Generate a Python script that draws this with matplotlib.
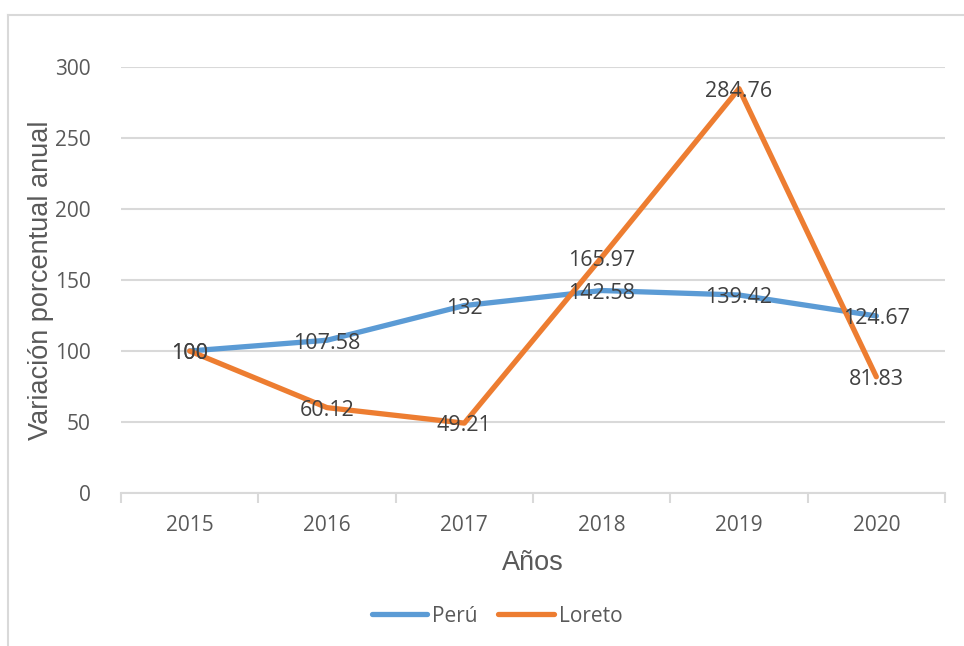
import matplotlib.pyplot as plt
from matplotlib.lines import Line2D

years = ["2015", "2016", "2017", "2018", "2019", "2020"]
peru = [100, 107.58, 132, 142.58, 139.42, 124.67]
loreto = [100, 60.12, 49.21, 165.97, 284.76, 81.83]
peru_labels = ["100", "107.58", "132", "142.58", "139.42", "124.67"]
loreto_labels = ["100", "60.12", "49.21", "165.97", "284.76", "81.83"]

blue = "#5B9BD5"
orange = "#ED7D31"
grid = "#D9D9D9"
txt = "#595959"

fig = plt.figure(figsize=(9.64, 6.46), dpi=100)
fig.patch.set_facecolor("white")
ax = fig.add_axes([121 / 964, 1 - 493 / 646, (945 - 121) / 964, (493 - 67) / 646])

x = list(range(len(years)))
ax.plot(x, peru, color=blue, lw=3.8, solid_capstyle="round", label="Perú", zorder=3)
ax.plot(x, loreto, color=orange, lw=3.8, solid_capstyle="round", label="Loreto", zorder=3)

# etiquetas de datos centradas en el punto
for i in x:
    ax.annotate(peru_labels[i], (i, peru[i]), xytext=(0, -2), textcoords="offset points",
                ha="center", va="center", fontsize=15.5, family="Open Sans",
                color="#404040", zorder=4)
    ax.annotate(loreto_labels[i], (i, loreto[i]), xytext=(0, -2), textcoords="offset points",
                ha="center", va="center", fontsize=15.5, family="Open Sans",
                color="#404040", zorder=4)

ax.set_xlim(-0.5, len(years) - 0.5)
ax.set_ylim(0, 300)
ax.set_yticks(range(0, 301, 50))
ax.yaxis.grid(True, color=grid, lw=1.5)
ax.set_axisbelow(True)

ax.set_xticks(x)
ax.set_xticklabels(years)
ax.set_xticks([i - 0.5 for i in range(len(years) + 1)], minor=True)
ax.tick_params(axis="x", which="major", length=0, pad=16, labelsize=15, labelcolor=txt)
ax.tick_params(axis="x", which="minor", length=7, width=1.5, color=grid, direction="out")
ax.tick_params(axis="y", length=0, pad=22, labelsize=15, labelcolor=txt)
for lab in ax.get_xticklabels() + ax.get_yticklabels():
    lab.set_family("Open Sans")

for s in ["top", "right", "left"]:
    ax.spines[s].set_visible(False)
ax.spines["bottom"].set_color(grid)
ax.spines["bottom"].set_linewidth(1.5)

ax.set_xlabel("Años", fontsize=19.5, color=txt, family="Liberation Sans", labelpad=10)
ax.set_ylabel("Variación porcentual anual", fontsize=19.5, color=txt,
              family="Liberation Sans")
ax.yaxis.set_label_coords(-(121 - 54) / 824, 0.5)

leg = fig.legend(loc="center", bbox_to_anchor=(497 / 964, 1 - 616 / 646), ncol=2,
                 frameon=False, prop={"family": "Open Sans", "size": 15},
                 handlelength=2.65, handletextpad=0.25, columnspacing=1.0)
for t in leg.get_texts():
    t.set_color(txt)

# marco del gráfico
fig.add_artist(Line2D([8 / 964, 963 / 964], [1 - 15 / 646, 1 - 15 / 646], color=grid, lw=1.5))
fig.add_artist(Line2D([8 / 964, 8 / 964], [1 - 15 / 646, 0], color=grid, lw=1.5))

fig.savefig("out.png", dpi=100, facecolor="white")
